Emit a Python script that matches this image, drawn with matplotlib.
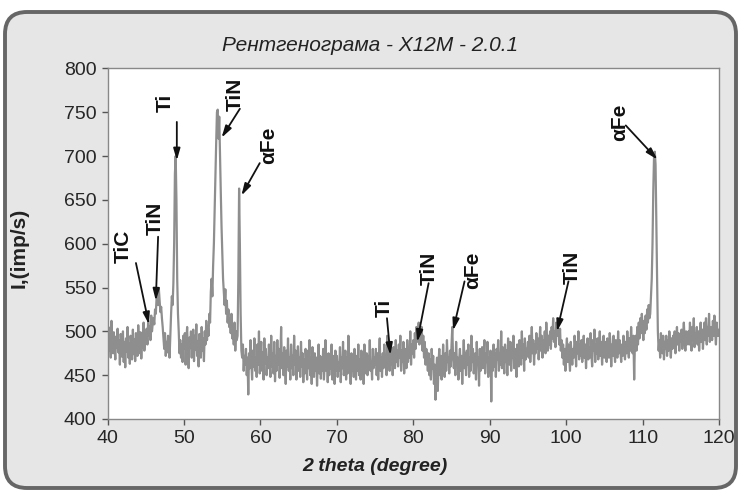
import matplotlib.pyplot as plt
import numpy as np
from matplotlib.patches import FancyBboxPatch

plt.rcParams['font.family'] = ['Liberation Sans', 'DejaVu Sans']

# 2 theta grid, 0.1 degree step
two_theta = np.round(np.arange(40.0, 120.05, 0.1), 1)

# intensity, one row per degree (40.0 .. 40.9, 41.0 .. 41.9, ...)
intensity = [
    490, 505, 478, 496, 470, 512, 488, 475, 499, 482,
    468, 494, 481, 503, 476, 490, 462, 497, 484, 471,
    500, 465, 488, 459, 492, 477, 505, 470, 486, 463,
    495, 480, 468, 502, 474, 491, 466, 498, 483, 472,
    507, 486, 475, 499, 469, 493, 481, 510, 478, 496,
    488, 503, 485, 512, 495, 506, 490, 518, 500, 509,
    515, 508, 525, 520, 538, 545, 530, 548, 535, 522,
    528, 515, 505, 492, 480, 498, 472, 488, 476, 495,
    485, 470, 495, 520, 540, 530, 555, 600, 680, 700,
    650, 560, 520, 500, 475, 490, 470, 485, 465, 495,
    480, 498, 462, 490, 505, 475, 458, 493, 481, 500,
    470, 487, 502, 466, 495, 479, 508, 472, 489, 460,
    497, 483, 470, 505, 478, 492, 466, 500, 485, 512,
    490, 506, 495, 520, 510, 545, 560, 540, 575, 600,
    640, 680, 715, 750, 753, 720, 745, 700, 660, 620,
    590, 560, 545, 530, 548, 520, 535, 510, 525, 505,
    515, 498, 520, 492, 505, 485, 510, 478, 500, 490,
    495, 560, 663, 600, 520, 478, 470, 485, 455, 472,
    462, 480, 450, 470, 428, 475, 458, 490, 465, 445,
    478, 460, 492, 455, 470, 448, 485, 462, 500, 452,
    470, 488, 455, 476, 445, 492, 463, 480, 450, 470,
    458, 485, 465, 448, 495, 460, 475, 452, 488, 443,
    472, 455, 490, 462, 480, 447, 468, 505, 458, 475,
    450, 482, 465, 440, 478, 460, 492, 455, 470, 445,
    485, 458, 472, 450, 495, 462, 478, 445, 465, 483,
    455, 470, 448, 488, 460, 475, 442, 468, 452, 480,
    465, 445, 478, 458, 490, 450, 470, 440, 482, 460,
    448, 475, 455, 470, 438, 465, 485, 452, 472, 446,
    470, 455, 480, 445, 462, 490, 455, 468, 442, 475,
    450, 468, 458, 485, 445, 472, 460, 440, 478, 455,
    472, 448, 465, 455, 482, 442, 470, 458, 488, 450,
    460, 478, 445, 470, 452, 495, 458, 465, 440, 475,
    455, 470, 448, 480, 460, 445, 472, 455, 485, 450,
    468, 445, 478, 458, 470, 440, 485, 462, 452, 475,
    450, 472, 460, 490, 455, 465, 445, 480, 458, 470,
    462, 480, 450, 475, 445, 468, 492, 455, 470, 448,
    475, 458, 485, 462, 470, 450, 495, 465, 478, 455,
    488, 462, 475, 450, 482, 468, 458, 490, 465, 478,
    460, 485, 470, 495, 455, 478, 465, 488, 452, 480,
    472, 458, 490, 465, 480, 470, 500, 462, 485, 475,
    490, 470, 498, 480, 505, 488, 495, 510, 485, 500,
    492, 505, 478, 495, 470, 488, 462, 480, 470, 455,
    475, 450, 468, 445, 480, 458, 472, 440, 462, 422,
    455, 470, 432, 465, 480, 450, 472, 445, 460, 485,
    462, 448, 475, 455, 490, 465, 470, 452, 478, 460,
    485, 505, 470, 458, 475, 450, 488, 462, 470, 445,
    468, 480, 455, 472, 440, 465, 490, 458, 475, 450,
    478, 462, 485, 448, 470, 455, 495, 465, 480, 452,
    460, 475, 445, 488, 462, 470, 438, 480, 455, 472,
    482, 458, 470, 490, 452, 475, 465, 488, 448, 470,
    462, 478, 420, 472, 455, 485, 460, 475, 448, 480,
    468, 490, 455, 475, 462, 500, 458, 482, 470, 452,
    485, 465, 478, 450, 492, 470, 462, 488, 455, 475,
    470, 495, 458, 480, 465, 448, 485, 472, 460, 490,
    478, 462, 500, 470, 485, 455, 492, 468, 480, 472,
    488, 470, 495, 465, 482, 505, 475, 490, 462, 485,
    475, 498, 480, 492, 468, 485, 505, 478, 495, 470,
    490, 482, 500, 475, 510, 488, 478, 495, 485, 500,
    480, 505, 492, 515, 488, 500, 482, 510, 495, 505,
    498, 485, 503, 478, 490, 470, 485, 462, 480, 455,
    478, 492, 465, 485, 470, 455, 488, 475, 462, 480,
    470, 495, 482, 460, 488, 475, 500, 468, 485, 472,
    490, 465, 478, 495, 470, 485, 458, 480, 492, 468,
    482, 470, 498, 475, 460, 490, 478, 502, 465, 485,
    475, 492, 468, 485, 500, 472, 488, 462, 480, 495,
    470, 488, 478, 465, 492, 480, 470, 498, 485, 460,
    485, 472, 495, 478, 465, 490, 482, 470, 500, 475,
    490, 478, 465, 485, 472, 495, 480, 468, 488, 475,
    500, 482, 470, 492, 478, 505, 485, 475, 495, 445,
    488, 495, 478, 505, 485, 510, 492, 515, 498, 520,
    505, 490, 512, 498, 518, 502, 525, 510, 530, 515,
    520, 540, 560, 600, 660, 700, 705, 690, 620, 560,
    500, 478, 490, 470, 498, 482, 475, 495, 468, 488,
    480, 495, 472, 490, 478, 500, 485, 470, 492, 480,
    495, 482, 500, 475, 490, 505, 485, 498, 478, 492,
    488, 502, 480, 495, 510, 490, 478, 500, 485, 495,
    500, 485, 510, 492, 478, 505, 490, 515, 482, 498,
    492, 505, 485, 500, 478, 495, 510, 488, 502, 480,
    498, 510, 490, 515, 485, 505, 495, 520, 488, 500,
    505, 490, 512, 495, 518, 500, 485, 510, 495, 502,
    495,
]

# peak labels: text, text position, arrow start, arrow tip
peak_names = ['TiC', 'TiN', 'Ti', 'TiN', 'αFe', 'Ti', 'TiN', 'αFe', 'TiN', 'αFe']
label_xy = [(42.1, 597), (46.25, 629), (47.55, 761), (56.7, 771), (61.1, 712),
            (76.2, 527), (82.1, 572), (87.75, 570), (100.8, 573), (107.0, 739)]
arrow_from = [(43.7, 578), (46.6, 608), (49.05, 739), (57.3, 754), (59.9, 692),
              (76.55, 515), (82.0, 555), (86.7, 557), (100.3, 557), (107.8, 735)]
arrow_to = [(45.4, 508), (46.3, 535), (49.05, 695), (54.9, 721), (57.5, 655),
            (77.0, 473), (80.5, 488), (85.2, 501), (98.8, 500), (111.95, 696)]

fig = plt.figure(figsize=(7.41, 4.92), dpi=100)
fig.patch.set_facecolor('white')
frame = FancyBboxPatch((0.05, 0.04), 7.31, 4.76,
                       boxstyle='round,pad=0,rounding_size=0.22',
                       transform=fig.dpi_scale_trans,
                       facecolor='#e6e6e6', edgecolor='#666666', lw=2.8,
                       zorder=-10)
fig.patches.append(frame)

ax = fig.add_axes([0.1453, 0.1484, 0.825, 0.7124])
ax.plot(two_theta, intensity, color='#8e8e8e', lw=1.6)

ax.set_xlim(40, 120)
ax.set_ylim(400, 800)
ax.set_xticks(np.arange(40, 121, 10))
ax.set_yticks(np.arange(400, 801, 50))
ax.tick_params(direction='out', length=4, width=1, color='#555555',
               labelsize=14, labelcolor='#262626', pad=4)
for s in ax.spines.values():
    s.set_color('#888888')
    s.set_linewidth(1)

fig.text(0.5, 0.908, 'Рентгенограма - X12M - 2.0.1', fontsize=15,
         style='italic', color='#222222', ha='center', va='center')
ax.set_xlabel('2 theta (degree)', fontsize=14, style='italic',
              fontweight='bold', color='#222222')
ax.xaxis.set_label_coords(0.437, -0.112)
ax.set_ylabel('I,(imp/s)', fontsize=15, fontweight='bold', color='#222222')
ax.yaxis.set_label_coords(-0.129, 0.487)

for name, pos, a0, a1 in zip(peak_names, label_xy, arrow_from, arrow_to):
    ax.text(pos[0], pos[1], name, rotation=90, ha='center', va='center',
            fontsize=15, fontweight='bold', color='#111111')
    ax.annotate('', xy=a1, xytext=a0,
                arrowprops=dict(arrowstyle='-|>,head_length=0.7,head_width=0.2',
                                color='#111111', lw=1.3, shrinkA=0, shrinkB=0))

fig.savefig('out.png', dpi=100)
